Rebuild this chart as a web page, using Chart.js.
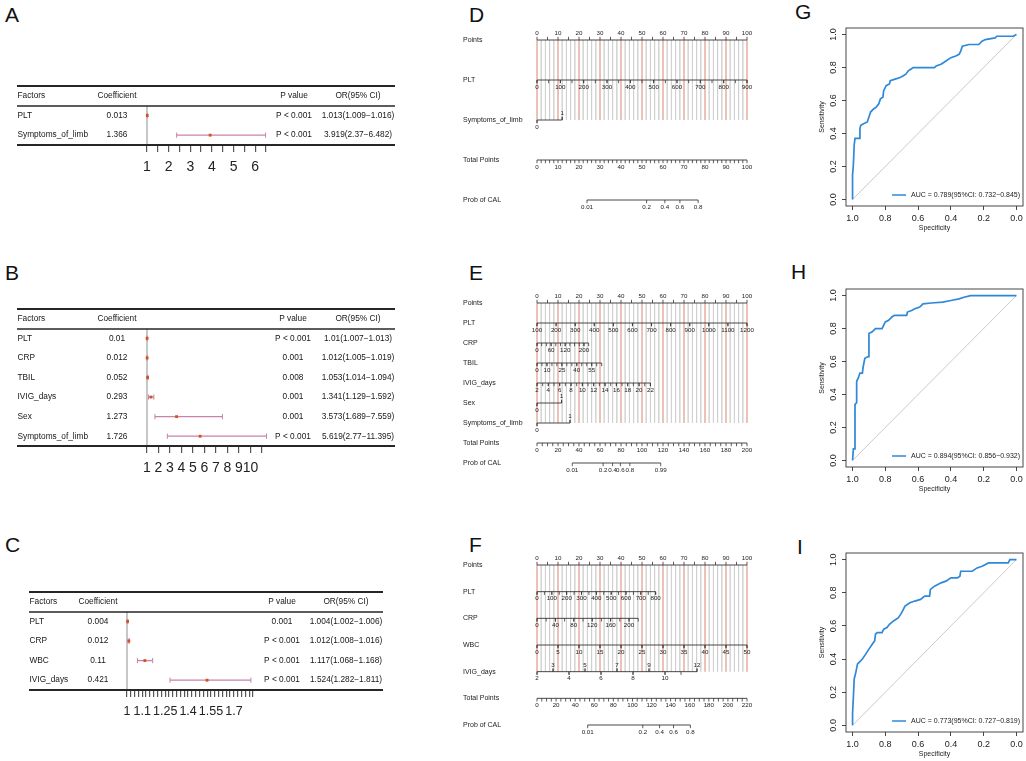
<!DOCTYPE html>
<html>
<head>
<meta charset="utf-8">
<script src="https://cdn.jsdelivr.net/npm/chart.js@4.4.1/dist/chart.umd.min.js"></script>
<style>
  body { margin: 0; background: #fff; }
  #stage { position: relative; width: 1026px; height: 761px; overflow: hidden; font-family: 'Liberation Sans', Arial, sans-serif; }
  #stage canvas { position: absolute; left: 0; top: 0; }
  .tag { position: absolute; font-size: 21px; line-height: 1; color: #111; }
</style>
</head>
<body>
<div id="stage">
  <div class="tag" style="left:5px;top:4px">A</div>
  <div class="tag" style="left:5px;top:262px">B</div>
  <div class="tag" style="left:5px;top:534px">C</div>
  <div class="tag" style="left:469px;top:4px">D</div>
  <div class="tag" style="left:469px;top:262px">E</div>
  <div class="tag" style="left:469px;top:534px">F</div>
  <div class="tag" style="left:795px;top:1px">G</div>
  <div class="tag" style="left:791px;top:261px">H</div>
  <div class="tag" style="left:797px;top:536px">I</div>
</div>
<script>
// ---- A: forest plot ----
const factorsA = ['PLT', 'Symptoms_of_limb'];
const coefA = [0.013, 1.366];
const pvalA = ['P < 0.001', 'P < 0.001'];
const orA = [1.013, 3.919];
const loA = [1.009, 2.37];
const hiA = [1.016, 6.482];
const tickLabelsA = [1, 2, 3, 4, 5, 6];

// ---- B: forest plot ----
const factorsB = ['PLT', 'CRP', 'TBIL', 'IVIG_days', 'Sex', 'Symptoms_of_limb'];
const coefB = [0.01, 0.012, 0.052, 0.293, 1.273, 1.726];
const pvalB = ['P < 0.001', '0.001', '0.008', '0.001', '0.001', 'P < 0.001'];
const orB = [1.01, 1.012, 1.053, 1.341, 3.573, 5.619];
const loB = [1.007, 1.005, 1.014, 1.129, 1.689, 2.77];
const hiB = [1.013, 1.019, 1.094, 1.592, 7.559, 11.395];
const tickLabelsB = [1, 2, 3, 4, 5, 6, 7, 8, 9, 10];

// ---- C: forest plot ----
const factorsC = ['PLT', 'CRP', 'WBC', 'IVIG_days'];
const coefC = [0.004, 0.012, 0.11, 0.421];
const pvalC = ['0.001', 'P < 0.001', 'P < 0.001', 'P < 0.001'];
const orC = [1.004, 1.012, 1.117, 1.524];
const loC = [1.002, 1.008, 1.068, 1.282];
const hiC = [1.006, 1.016, 1.168, 1.811];
const tickLabelsC = [1, 1.1, 1.25, 1.4, 1.55, 1.7];

// ---- D: nomogram ----
const nomoD_vars = ['PLT', 'Symptoms_of_limb'];
const nomoD_ranges = [[0, 900], [0, 1]];
const nomoD_points = [[0, 100], [0, 12]];
const nomoD_below = [[0, 100, 200, 300, 400, 500, 600, 700, 800, 900], [0]];
const nomoD_above = [[], [1]];
const nomoD_minor = [50, 1];
const nomoD_total = [0, 10, 20, 30, 40, 50, 60, 70, 80, 90, 100];
const nomoD_prob = [0.01, 0.2, 0.4, 0.6, 0.8];
const nomoD_logit = [-7.285, 0.113];

// ---- E: nomogram ----
const nomoE_vars = ['PLT', 'CRP', 'TBIL', 'IVIG_days', 'Sex', 'Symptoms_of_limb'];
const nomoE_ranges = [[100, 1200], [0, 220], [0, 65], [2, 22], [0, 1], [0, 1]];
const nomoE_points = [[0, 100], [0, 24.6], [0, 30.8], [0, 54], [0, 11.7], [0, 15.7]];
const nomoE_below = [
  [100, 200, 300, 400, 500, 600, 700, 800, 900, 1000, 1100, 1200],
  [0, 60, 120, 200],
  [0, 10, 25, 40, 55],
  [2, 4, 6, 8, 10, 12, 14, 16, 18, 20, 22],
  [0], [0]
];
const nomoE_above = [[], [], [], [], [1], [1]];
const nomoE_minor = [100, 20, 5, 1, 1, 1];
const nomoE_total = [0, 20, 40, 60, 80, 100, 120, 140, 160, 180, 200];
const nomoE_prob = [0.01, 0.2, 0.4, 0.6, 0.8, 0.99];
const nomoE_logit = [-8.26, 0.1091];

// ---- F: nomogram ----
const nomoF_vars = ['PLT', 'CRP', 'WBC', 'IVIG_days'];
const nomoF_ranges = [[0, 800], [0, 220], [0, 50], [2, 12]];
const nomoF_points = [[0, 56.5], [0, 48.2], [0, 100], [0, 76.2]];
const nomoF_below = [
  [0, 100, 200, 300, 400, 500, 600, 700, 800],
  [0, 40, 80, 120, 160, 200],
  [0, 5, 10, 15, 20, 25, 30, 35, 40, 45, 50],
  [2, 4, 6, 8, 10]
];
const nomoF_above = [[], [], [], [3, 5, 7, 9, 12]];
const nomoF_minor = [50, 20, 5, 1];
const nomoF_total = [0, 20, 40, 60, 80, 100, 120, 140, 160, 180, 200, 220];
const nomoF_prob = [0.01, 0.2, 0.4, 0.6, 0.8];
const nomoF_logit = [-7.547, 0.0556];

// ---- G/H/I: ROC curves (specificity, sensitivity) ----
const gSpec = [1.0, 1.0, 0.995, 0.99, 0.985, 0.96, 0.955, 0.95, 0.93, 0.91, 0.90, 0.89, 0.87, 0.855, 0.84, 0.83, 0.815, 0.81, 0.795, 0.775, 0.77, 0.74, 0.71, 0.69, 0.675, 0.66, 0.645, 0.63, 0.50, 0.49, 0.46, 0.43, 0.40, 0.37, 0.35, 0.34, 0.33, 0.29, 0.23, 0.21, 0.19, 0.13, 0.12, 0.02, 0.0];
const gSens = [0.0, 0.15, 0.21, 0.33, 0.37, 0.37, 0.43, 0.45, 0.46, 0.47, 0.50, 0.53, 0.55, 0.56, 0.58, 0.61, 0.62, 0.66, 0.69, 0.70, 0.72, 0.73, 0.74, 0.75, 0.76, 0.78, 0.79, 0.80, 0.80, 0.81, 0.82, 0.84, 0.86, 0.87, 0.88, 0.90, 0.93, 0.94, 0.94, 0.96, 0.97, 0.98, 0.99, 0.99, 1.0];
const hSpec = [1.0, 0.995, 0.985, 0.985, 0.975, 0.975, 0.965, 0.955, 0.94, 0.935, 0.925, 0.905, 0.9, 0.88, 0.86, 0.82, 0.8, 0.78, 0.76, 0.745, 0.67, 0.665, 0.64, 0.62, 0.59, 0.57, 0.52, 0.45, 0.4, 0.35, 0.32, 0.28, 0.0];
const hSens = [0.0, 0.07, 0.07, 0.34, 0.35, 0.48, 0.50, 0.53, 0.53, 0.57, 0.62, 0.63, 0.77, 0.78, 0.80, 0.80, 0.84, 0.85, 0.87, 0.88, 0.88, 0.90, 0.91, 0.92, 0.93, 0.95, 0.955, 0.96, 0.97, 0.98, 0.99, 1.0, 1.0];
const iSpec = [1.0, 1.0, 0.995, 0.99, 0.98, 0.97, 0.96, 0.94, 0.92, 0.9, 0.88, 0.865, 0.86, 0.85, 0.82, 0.81, 0.79, 0.775, 0.75, 0.72, 0.7, 0.68, 0.65, 0.62, 0.585, 0.56, 0.53, 0.525, 0.5, 0.46, 0.43, 0.4, 0.36, 0.345, 0.34, 0.27, 0.24, 0.21, 0.17, 0.15, 0.05, 0.04, 0.0];
const iSens = [0.0, 0.07, 0.17, 0.28, 0.32, 0.37, 0.38, 0.40, 0.43, 0.46, 0.49, 0.51, 0.55, 0.56, 0.56, 0.58, 0.59, 0.61, 0.63, 0.65, 0.68, 0.72, 0.74, 0.75, 0.76, 0.78, 0.78, 0.82, 0.84, 0.86, 0.87, 0.89, 0.89, 0.90, 0.93, 0.93, 0.95, 0.96, 0.98, 0.98, 0.98, 1.0, 1.0];
const rocTicks = [0, 0.2, 0.4, 0.6, 0.8, 1.0];
const gLegend = 'AUC = 0.789(95%CI: 0.732−0.845)';
const hLegend = 'AUC = 0.894(95%CI: 0.856−0.932)';
const iLegend = 'AUC = 0.773(95%CI: 0.727−0.819)';

const FONT = "'Liberation Sans', Arial, Helvetica, sans-serif";
const W = 1026, H = 761;

Chart.defaults.font.family = FONT;
Chart.defaults.animation = false;
Chart.defaults.responsive = false;
Chart.defaults.events = [];
Chart.defaults.plugins.legend.display = false;
Chart.defaults.plugins.tooltip.enabled = false;

function newCanvas() {
  const c = document.createElement('canvas');
  c.width = W;
  c.height = H;
  document.getElementById('stage').appendChild(c);
  return c.getContext('2d');
}

function seq(a, b, s) {
  const out = [];
  for (let v = a; v <= b + s * 1e-6; v += s) out.push(Math.round(v * 1e6) / 1e6);
  return out;
}

function line(pts, color, width) {
  return { showLine: true, data: pts, borderColor: color, borderWidth: width, pointRadius: 0, clip: false };
}

// forest plot with its table drawn around the plotting strip
function forest(box, factors, coef, pvals, or, lo, hi, tickStep, tickLabels) {
  const n = factors.length;
  const PINK = '#c784a8';
  const ds = [];
  ds.push({ data: or.map((v, i) => ({ x: v, y: i + 1 })), pointStyle: 'rect', pointRadius: 2, backgroundColor: '#d4531c', borderWidth: 0, clip: false });
  ds.push({ data: lo.map((v, i) => ({ x: v, y: i + 1 })).concat(hi.map((v, i) => ({ x: v, y: i + 1 }))),
            pointStyle: 'line', rotation: 90, pointRadius: 2.6, borderColor: PINK, borderWidth: 1, clip: false });
  lo.forEach((v, i) => ds.push(line([{ x: v, y: i + 1 }, { x: hi[i], y: i + 1 }], PINK, 1.3)));
  ds.push(line([{ x: 1, y: 0.5 }, { x: 1, y: n + 0.5 }], '#b9b9b9', 1.6));

  const table = {
    id: 'table',
    afterDraw(chart) {
      const { ctx } = chart;
      const y = chart.scales.y;
      const rule = (v, w) => {
        const py = Math.round(y.getPixelForValue(v));
        ctx.lineWidth = w;
        ctx.beginPath();
        ctx.moveTo(box.tabL, py);
        ctx.lineTo(box.tabR, py);
        ctx.stroke();
      };
      ctx.save();
      ctx.strokeStyle = '#262626';
      rule(-0.5, 1.8);
      rule(0.5, 1.4);
      rule(n + 0.5, 1.8);
      ctx.fillStyle = '#161616';
      ctx.font = '8.3px ' + FONT;
      ctx.textBaseline = 'middle';
      const put = (t, x, v, align) => { ctx.textAlign = align; ctx.fillText(t, x, y.getPixelForValue(v)); };
      put('Factors', box.tabL + 0.5, 0, 'left');
      put('Coefficient', box.coefX, 0, 'center');
      put('P value', box.pX, 0, 'center');
      put('OR(95% CI)', box.orX, 0, 'center');
      factors.forEach((f, i) => {
        put(f, box.tabL + 0.5, i + 1, 'left');
        put(String(coef[i]), box.coefX, i + 1, 'center');
        put(pvals[i], box.pX, i + 1, 'center');
        put(or[i] + '(' + lo[i] + '−' + hi[i] + ')', box.orX, i + 1, 'center');
      });
      ctx.restore();
    }
  };

  new Chart(newCanvas(), {
    type: 'scatter',
    data: { datasets: ds },
    options: {
      layout: { padding: { left: box.left, right: W - box.right, top: box.top, bottom: H - box.bottom - 32 } },
      scales: {
        x: {
          type: 'linear', min: 1, max: box.max,
          afterBuildTicks: s => { s.ticks = seq(1, box.max, tickStep).map(v => ({ value: v })); },
          afterFit: s => { s.height = 32; },
          ticks: {
            autoSkip: false, maxRotation: 0, minRotation: 0, padding: 7, color: '#222', font: { size: box.font },
            callback: v => { const t = tickLabels.find(l => Math.abs(l - v) < 1e-6); return t === undefined ? '' : String(t); }
          },
          grid: { drawOnChartArea: false, tickLength: 7, color: '#555', lineWidth: 1.2 },
          border: { display: false }
        },
        y: { type: 'linear', reverse: true, min: -0.5, max: n + 0.5, display: false }
      }
    },
    plugins: [table]
  });
}

// nomogram: x in "Points" units (0-100), one row per axis
function nomogram(L, vars, ranges, points, below, above, minor, totalLabels, probLabels, logit, totalMinor) {
  const k = vars.length;
  const totalMax = totalLabels[totalLabels.length - 1];
  const rowPx = (L.bottom - L.top) / (k + 2);
  const off = 6.8 / rowPx;
  const toff = 1.6 / rowPx;
  const AX = '#333';
  const toPts = (j, v) => points[j][0] + (v - ranges[j][0]) / (ranges[j][1] - ranges[j][0]) * (points[j][1] - points[j][0]);
  const totPts = t => t / totalMax * 100;
  const probPts = p => totPts((Math.log(p / (1 - p)) - logit[0]) / logit[1]);

  const axes = [], ticks = [], marks = [];
  // Points
  axes.push(line([{ x: 0, y: 0 }, { x: 100, y: 0 }], AX, 0.9));
  seq(0, 100, 5).forEach(p => ticks.push({ x: p, y: -toff }));
  seq(0, 100, 10).forEach(p => marks.push({ t: String(p), x: p, row: 0, dy: -off }));
  // variables
  vars.forEach((name, j) => {
    const row = j + 1;
    axes.push(line([{ x: toPts(j, ranges[j][0]), y: row }, { x: toPts(j, ranges[j][1]), y: row }], AX, 0.9));
    seq(ranges[j][0], ranges[j][1], minor[j]).forEach(v => {
      const up = above[j].includes(v);
      ticks.push({ x: toPts(j, v), y: row + (up ? -toff : toff) });
    });
    below[j].forEach(v => { ticks.push({ x: toPts(j, v), y: row + toff }); marks.push({ t: String(v), x: toPts(j, v), row, dy: off }); });
    above[j].forEach(v => { ticks.push({ x: toPts(j, v), y: row - toff }); marks.push({ t: String(v), x: toPts(j, v), row, dy: -off }); });
  });
  // Total Points
  axes.push(line([{ x: 0, y: k + 1 }, { x: 100, y: k + 1 }], AX, 0.9));
  seq(0, totalMax, totalMinor).forEach(t => ticks.push({ x: totPts(t), y: k + 1 + toff }));
  totalLabels.forEach(t => marks.push({ t: String(t), x: totPts(t), row: k + 1, dy: off }));
  // Prob of CAL
  axes.push(line([{ x: probPts(probLabels[0]), y: k + 2 }, { x: probPts(probLabels[probLabels.length - 1]), y: k + 2 }], AX, 0.9));
  probLabels.forEach(p => { ticks.push({ x: probPts(p), y: k + 2 + toff }); marks.push({ t: String(p), x: probPts(p), row: k + 2, dy: off }); });

  const ds = axes.concat([{ data: ticks, pointStyle: 'line', rotation: 90, pointRadius: 1.6, borderColor: AX, borderWidth: 0.8, clip: false }]);
  // vertical guide lines behind everything
  seq(0, 100, 2).forEach(p => {
    const major = Math.round(p) % 10 === 0;
    ds.push(line([{ x: p, y: 0 }, { x: p, y: k }], major ? 'rgba(228,158,142,0.85)' : 'rgba(205,205,205,0.7)', major ? 1.5 : 0.9));
  });

  const names = ['Points'].concat(vars, ['Total Points', 'Prob of CAL']);
  const text = {
    id: 'nomoText',
    afterDraw(chart) {
      const { ctx } = chart;
      const { x, y } = chart.scales;
      ctx.save();
      ctx.fillStyle = '#222';
      ctx.textBaseline = 'middle';
      ctx.font = '7px ' + FONT;
      ctx.textAlign = 'left';
      names.forEach((nm, i) => ctx.fillText(nm, L.labelX, y.getPixelForValue(i)));
      ctx.font = '6.2px ' + FONT;
      ctx.textAlign = 'center';
      marks.forEach(m => ctx.fillText(m.t, x.getPixelForValue(m.x), y.getPixelForValue(m.row + m.dy)));
      ctx.restore();
    }
  };

  new Chart(newCanvas(), {
    type: 'scatter',
    data: { datasets: ds },
    options: {
      layout: { padding: { left: L.left, right: W - L.right, top: L.top, bottom: H - L.bottom } },
      scales: {
        x: { type: 'linear', min: 0, max: 100, display: false },
        y: { type: 'linear', reverse: true, min: 0, max: k + 2, display: false }
      }
    },
    plugins: [text]
  });
}

// ROC curve in an R style box
function roc(L, spec, sens, legendText) {
  const BLUE = '#2f88d8';
  const ds = [
    line(spec.map((s, i) => ({ x: s, y: sens[i] })), BLUE, 1.7),
    line([{ x: 1, y: 0 }, { x: 0, y: 1 }], '#c4c4c4', 0.9)
  ];
  const frame = {
    id: 'frame',
    afterDraw(chart) {
      const { ctx, chartArea: a } = chart;
      ctx.save();
      ctx.strokeStyle = '#333';
      ctx.lineWidth = 0.9;
      ctx.strokeRect(a.left, a.top, a.right - a.left, a.bottom - a.top);
      ctx.font = '7px ' + FONT;
      ctx.textBaseline = 'middle';
      ctx.textAlign = 'right';
      ctx.fillStyle = '#222';
      const ty = a.bottom - 11, tx = a.right - 3;
      ctx.fillText(legendText, tx, ty);
      const w = ctx.measureText(legendText).width;
      ctx.strokeStyle = BLUE;
      ctx.lineWidth = 1.5;
      ctx.beginPath();
      ctx.moveTo(tx - w - 19, ty);
      ctx.lineTo(tx - w - 5, ty);
      ctx.stroke();
      ctx.restore();
    }
  };
  const axisBase = {
    type: 'linear', min: -0.04, max: 1.04,
    afterBuildTicks: s => { s.ticks = rocTicks.map(v => ({ value: v })); },
    grid: { drawOnChartArea: false, tickLength: 4, color: '#333', lineWidth: 0.9 },
    border: { display: false }
  };
  new Chart(newCanvas(), {
    type: 'scatter',
    data: { datasets: ds },
    options: {
      layout: { padding: { left: L.left - 30, right: W - L.right, top: L.top, bottom: H - L.bottom - 28 } },
      scales: {
        x: Object.assign({}, axisBase, {
          reverse: true,
          afterFit: s => { s.height = 28; },
          ticks: { autoSkip: false, maxRotation: 0, minRotation: 0, padding: 3, color: '#222', font: { size: 9 }, callback: v => v.toFixed(1) },
          title: { display: true, text: 'Specificity', color: '#222', font: { size: 7 }, padding: { top: 0, bottom: 2 } }
        }),
        y: Object.assign({}, axisBase, {
          afterFit: s => { s.width = 30; },
          ticks: { autoSkip: false, minRotation: 90, maxRotation: 90, crossAlign: 'center', padding: 2.5, color: '#222', font: { size: 9 }, callback: v => v.toFixed(1) },
          title: { display: true, text: 'Sensitivity', color: '#222', font: { size: 7 }, padding: { top: 2, bottom: 0 } }
        })
      }
    },
    plugins: [frame]
  });
}

forest({ left: 147, right: 266, top: 86, bottom: 145, max: 6.5, tabL: 17, tabR: 395, coefX: 117, pX: 294, orX: 358, font: 14 },
       factorsA, coefA, pvalA, orA, loA, hiA, 0.5, tickLabelsA);
forest({ left: 147, right: 262, top: 309, bottom: 446, max: 11, tabL: 17, tabR: 395, coefX: 117, pX: 293, orX: 358, font: 14 },
       factorsB, coefB, pvalB, orB, loB, hiB, 1, tickLabelsB);
forest({ left: 127, right: 253, top: 592, bottom: 690, max: 1.825, tabL: 29, tabR: 383, coefX: 98, pX: 282, orX: 346, font: 12.5 },
       factorsC, coefC, pvalC, orC, loC, hiC, 0.025, tickLabelsC);

nomogram({ left: 537, right: 747, top: 40, bottom: 200, labelX: 463 },
         nomoD_vars, nomoD_ranges, nomoD_points, nomoD_below, nomoD_above, nomoD_minor, nomoD_total, nomoD_prob, nomoD_logit, 2);
nomogram({ left: 537, right: 747, top: 303, bottom: 463, labelX: 463 },
         nomoE_vars, nomoE_ranges, nomoE_points, nomoE_below, nomoE_above, nomoE_minor, nomoE_total, nomoE_prob, nomoE_logit, 5);
nomogram({ left: 537, right: 747, top: 565, bottom: 725, labelX: 463 },
         nomoF_vars, nomoF_ranges, nomoF_points, nomoF_below, nomoF_above, nomoF_minor, nomoF_total, nomoF_prob, nomoF_logit, 5);

roc({ left: 846, right: 1023, top: 28, bottom: 206 }, gSpec, gSens, gLegend);
roc({ left: 846, right: 1023, top: 289, bottom: 467 }, hSpec, hSens, hLegend);
roc({ left: 846, right: 1023, top: 553, bottom: 732 }, iSpec, iSens, iLegend);
</script>
</body>
</html>
